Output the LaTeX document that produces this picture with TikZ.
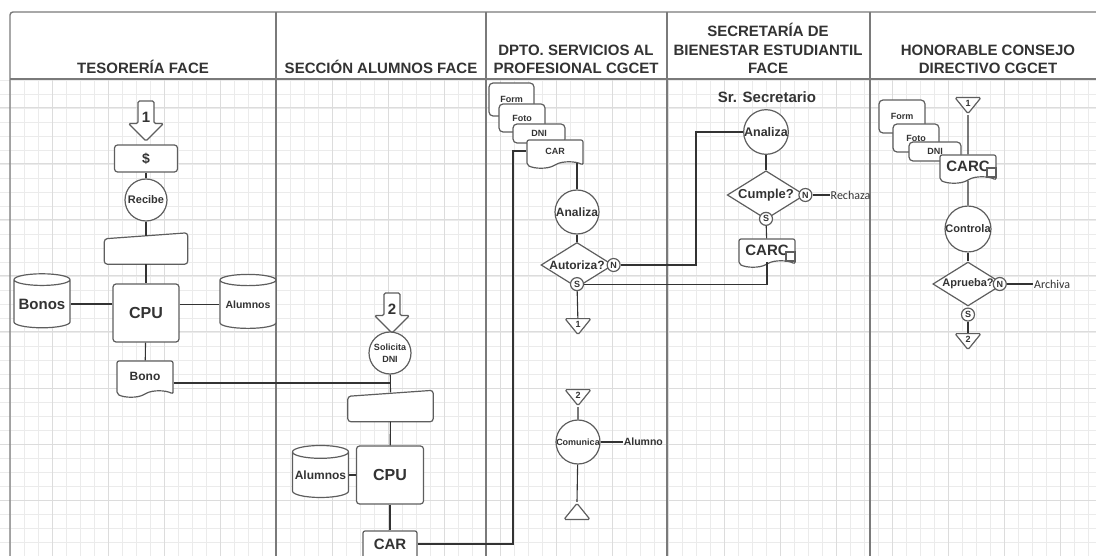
\documentclass[tikz,border=0pt]{standalone}
\usepackage{fontspec}
\setmainfont{Liberation Sans}
\newfontfamily\calfont{Carlito}
\usepackage{tikz}
\usetikzlibrary{positioning,shapes.geometric,shapes.symbols,shapes.arrows}
\definecolor{ink}{HTML}{333333}
\definecolor{shapeline}{HTML}{5E5E5E}
\definecolor{frameline}{HTML}{7A7A7A}
\definecolor{gridlt}{HTML}{EBEBEB}
\definecolor{griddk}{HTML}{DCDCDC}
\newcommand{\sizebf}[1]{\fontsize{#1}{#1}\selectfont\bfseries}
\tikzset{
  lanehead/.style={font=\fontsize{15}{18.5}\selectfont\bfseries, text=ink,
    align=center, anchor=south, inner sep=2pt},
  lanerule/.style={draw=frameline, line width=1.4pt},
  gridminor/.style={draw=gridlt, line width=0.8pt},
  gridmajor/.style={draw=griddk, line width=1pt},
  conn/.style={draw=ink, line width=1.1pt},
  shapebase/.style={draw=shapeline, fill=white, line width=1.2pt, text=ink, inner sep=0pt},
  procbox/.style={shapebase, rectangle, rounded corners=3pt, font=\sizebf{16}},
  stackbox/.style={shapebase, rectangle, rounded corners=4pt, font=\sizebf{9}},
  actcircle/.style={shapebase, circle, minimum size=44pt, align=center, font=\sizebf{#1}},
  actcircle/.default=12,
  decision/.style={shapebase, diamond, aspect=1.6, inner sep=0.5pt, font=\sizebf{#1}},
  decision/.default=12,
  flagcirc/.style={shapebase, circle, minimum size=13pt, font=\sizebf{9}},
  docbox/.style={shapebase, tape, tape bend top=none, tape bend bottom=in and out,
    tape bend height=6pt, minimum width=56pt, minimum height=28pt, rounded corners=2pt},
  cornerbox/.style={shapebase, rectangle, minimum size=9pt},
  dbcyl/.style={shapebase, cylinder, shape border rotate=90, shape aspect=0.25,
    minimum width=56pt, minimum height=54pt},
  manualin/.style={minimum width=#1, minimum height=31pt, inner sep=0pt,
    append after command={\pgfextra{
      \draw[draw=shapeline, fill=white, line width=1.2pt, rounded corners=3pt]
        (\tikzlastnode.south west) -- ([yshift=-6pt]\tikzlastnode.north west)
        -- (\tikzlastnode.north east) -- (\tikzlastnode.south east) -- cycle;}}},
  manualin/.default=84pt,
  offpage/.style={shapebase, isosceles triangle, shape border rotate=#1,
    isosceles triangle stretches, minimum width=26pt, minimum height=16pt,
    inner sep=0.5pt, rounded corners=1.5pt, font=\sizebf{9}},
  offpage/.default=270,
  entryarrow/.style={shapebase, single arrow, shape border rotate=270,
    minimum height=40pt, minimum width=35pt, single arrow head extend=8pt,
    inner sep=2pt, rounded corners=1.5pt, font=\sizebf{15}},
  notelabel/.style={font=\calfont\fontsize{12}{14}\selectfont, text=ink, inner sep=1pt},
}

\begin{document}
\begin{tikzpicture}[x=1pt, y=-1pt]
\useasboundingbox (0,0) rectangle (1096,556);

% background grid
\foreach \gx in {10,24,...,1096} \draw[gridminor] (\gx,0) -- (\gx,556);
\foreach \gy in {10,24,...,556} \draw[gridminor] (0,\gy) -- (1096,\gy);
\foreach \gx in {52,108,...,1096} \draw[gridmajor] (\gx,0) -- (\gx,556);
\foreach \gy in {52,108,...,556} \draw[gridmajor] (0,\gy) -- (1096,\gy);
\fill[white] (0,0) rectangle (1096,79);

% swimlanes
\draw[lanerule, rounded corners=3pt] (10,556) -- (10,12) -- (1096,12);
\draw[lanerule] (10,79) -- (1096,79);
\foreach \lx in {276,486,667,870} \draw[lanerule] (\lx,12) -- (\lx,556);

\node[lanehead] (h1) at (143,76) {TESORERÍA FACE};
\node[lanehead] (h2) at (381,76) {SECCIÓN ALUMNOS FACE};
\node[lanehead] (h3) at (576,76) {DPTO. SERVICIOS AL\\PROFESIONAL CGCET};
\node[lanehead] (h4) at (768,76) {SECRETARÍA DE\\BIENESTAR ESTUDIANTIL\\FACE};
\node[lanehead] (h5) at (988,76) {HONORABLE CONSEJO\\DIRECTIVO CGCET};

% Tesoreria FACE
\node[entryarrow] (in1) at (146,117) {1};
\node[procbox, minimum width=63pt, minimum height=27pt, font=\sizebf{14}] (pay) at (146,158.5) {\$};
\node[actcircle=11, minimum size=42pt] (rec) at (146,200) {Recibe};
\node[manualin=83pt] (mi1) at (146,248.5) {};
\node[procbox, minimum width=66pt, minimum height=58pt] (cpu1) at (146,313) {CPU};
\node[dbcyl, font=\sizebf{15}] (bonos) at (42,304) {Bonos};
\node[dbcyl, font=\sizebf{10.5}] (alu1) at (248,304.5) {Alumnos};
\node[docbox, minimum height=36pt, font=\sizebf{12}] (bono) at (145,376) {Bono};

% Seccion Alumnos FACE
\node[entryarrow] (in2) at (392,309) {2};
\node[actcircle, font=\fontsize{9}{12}\selectfont\bfseries, minimum size=42pt] (sol) at (390,353) {Solicita\\DNI};
\node[manualin=85pt] (mi2) at (390.5,406) {};
\node[procbox, minimum width=67pt, minimum height=58pt] (cpu2) at (390,475) {CPU};
\node[dbcyl, minimum height=52pt, font=\sizebf{12}] (alu2) at (320.5,475) {Alumnos};
\node[docbox, minimum width=54pt, minimum height=32pt, font=\sizebf{15}] (car2) at (390,544) {CAR};

% Dpto. Servicios al Profesional
\node[stackbox, minimum width=45pt, minimum height=33pt] (form3) at (511.5,99.5) {Form};
\node[stackbox, minimum width=46pt, minimum height=28pt] (foto3) at (522,118) {Foto};
\node[stackbox, minimum width=52pt, minimum height=19pt] (dni3) at (539,133.5) {DNI};
\node[docbox, font=\sizebf{9}] (car3) at (555,151) {CAR};
\node[actcircle] (an1) at (577,212) {Analiza};
\node[decision] (dec1) at (577,265) {Autoriza?};
\node[flagcirc] (n1) at (dec1.east) {N};
\node[flagcirc] (s1) at ([yshift=4pt]dec1.south) {S};
\node[offpage, anchor=north] (off1a) at (578,318) {1};
\node[offpage, anchor=north] (off2b) at (578,389) {2};
\node[actcircle=9] (com) at (578,442) {Comunica};
\node[font=\sizebf{10.5}, text=ink, inner sep=1pt, right=22pt of com] (alumno) {Alumno};
\node[offpage=90, anchor=south] (endmark) at (577,520) {};

% Secretaria de Bienestar
\node[font=\sizebf{15}, text=ink] (secr) at (767,97) {Sr. Secretario};
\node[actcircle=12.5] (an2) at (766,132) {Analiza};
\node[decision=13] (dec2) at (766,195) {Cumple?};
\node[flagcirc] (n2) at (dec2.east) {N};
\node[flagcirc] (s2) at ([yshift=1pt]dec2.south) {S};
\node[notelabel, right=17pt of n2] (rechaza) {Rechaza};
\node[docbox, font=\sizebf{15}] (carc1) at (767,250) {CARC};
\node[cornerbox, anchor=south east] (sq1) at (carc1.south east) {};

% Honorable Consejo Directivo
\node[offpage, anchor=north] (off1b) at (968,97) {1};
\node[stackbox, minimum width=46pt, minimum height=33pt] (form5) at (902,116.5) {Form};
\node[stackbox, minimum width=46pt, minimum height=28pt] (foto5) at (916,138) {Foto};
\node[stackbox, minimum width=52pt, minimum height=19pt] (dni5) at (935,151.5) {DNI};
\node[docbox, font=\sizebf{15}] (carc2) at (968,166) {CARC};
\node[cornerbox, anchor=south east] (sq2) at (carc2.south east) {};
\node[actcircle=11] (ctrl) at (968,229) {Controla};
\node[decision=11] (dec3) at (968,284) {Aprueba?};
\node[flagcirc] (n3) at ([xshift=-4pt]dec3.east) {N};
\node[flagcirc] (s3) at ([yshift=-8pt]dec3.south) {S};
\node[notelabel, right=26pt of n3] (archiva) {Archiva};
\node[offpage, anchor=north] (off2a) at (968,333) {2};

% connectors
\coordinate (jog1) at (513,0);
\coordinate (jog2) at (696,132);
\draw[conn] (pay) -- (rec);
\draw[conn] (rec) -- ([yshift=-3pt]mi1.north);
\draw[conn] (mi1) -- (cpu1);
\draw[conn] (bonos.east) -- (bonos.east -| cpu1.west);
\draw[conn] (cpu1.east |- alu1.west) -- (alu1.west);
\draw[conn] (cpu1) -- (bono);
\draw[conn] ([yshift=-7pt]bono.east) -- ([yshift=-7pt]bono.east -| sol.south);
\draw[conn] (sol) -- ([yshift=-2pt]mi2.north);
\draw[conn] (mi2) -- (cpu2);
\draw[conn] (alu2.east) -- (alu2.east -| cpu2.west);
\draw[conn] (cpu2) -- (car2);
\draw[conn] (car2.east) -| (jog1 |- car3.west) -- (car3.west);
\draw[conn] (an1.north |- car3.south) -- (an1.north);
\draw[conn] (an1) -- (dec1);
\draw[conn] (s1) -- (off1a);
\draw[conn] (n1.east) -| (jog2) -- (an2.west);
\draw[conn] (s1.east) -| (carc1.south);
\draw[conn] (off2b.south) -- (com);
\draw[conn] (com) -- (endmark.north);
\draw[conn] (com) -- (alumno);
\draw[conn] (an2) -- (dec2);
\draw[conn] (n2) -- (rechaza);
\draw[conn] (s2) -- (carc1);
\draw[conn] (off1b.south) -- (carc2.north);
\draw[conn] (carc2) -- (ctrl);
\draw[conn] (ctrl) -- (dec3);
\draw[conn] (n3) -- (archiva);
\draw[conn] (s3) -- (off2a.north);
\end{tikzpicture}
\end{document}
